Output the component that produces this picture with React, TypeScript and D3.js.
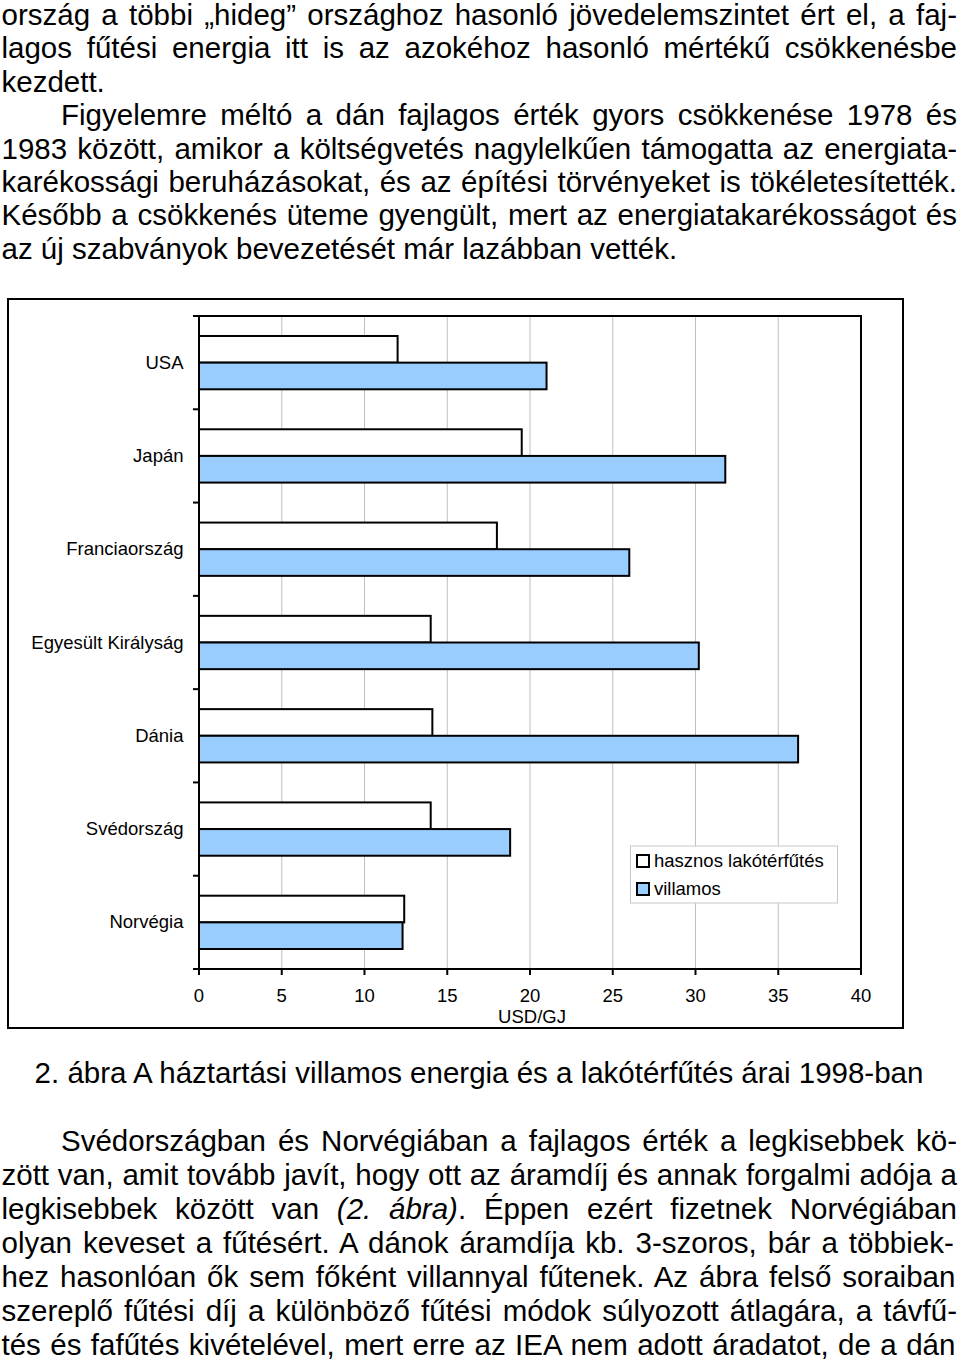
import React from 'react';
import * as d3 from 'd3';

// ---------- data ----------
const categories = ['USA', 'Japán', 'Franciaország', 'Egyesült Királyság', 'Dánia', 'Svédország', 'Norvégia'];
const heatingValues = [12, 19.5, 18, 14, 14.1, 14, 12.4];
const electricValues = [21, 31.8, 26, 30.2, 36.2, 18.8, 12.3];
const seriesNames = ['hasznos lakótérfűtés', 'villamos'];
const seriesFills = ['#ffffff', '#99ccff'];
const xTicks = [0, 5, 10, 15, 20, 25, 30, 35, 40];
const xAxisTitle = 'USD/GJ';
const caption = '2. ábra A háztartási villamos energia és a lakótérfűtés árai 1998-ban';

type Seg = { t: string; i?: boolean };
type Line = { segs: Seg[]; indent: boolean; justify: boolean };

const topLines: Line[] = [
  { segs: [{ t: 'ország a többi „hideg” országhoz hasonló jövedelemszintet ért el, a faj-' }], indent: false, justify: true },
  { segs: [{ t: 'lagos fűtési energia itt is az azokéhoz hasonló mértékű csökkenésbe' }], indent: false, justify: true },
  { segs: [{ t: 'kezdett.' }], indent: false, justify: false },
  { segs: [{ t: 'Figyelemre méltó a dán fajlagos érték gyors csökkenése 1978 és' }], indent: true, justify: true },
  { segs: [{ t: '1983 között, amikor a költségvetés nagylelkűen támogatta az energiata-' }], indent: false, justify: true },
  { segs: [{ t: 'karékossági beruházásokat, és az építési törvényeket is tökéletesítették.' }], indent: false, justify: true },
  { segs: [{ t: 'Később a csökkenés üteme gyengült, mert az energiatakarékosságot és' }], indent: false, justify: true },
  { segs: [{ t: 'az új szabványok bevezetését már lazábban vették.' }], indent: false, justify: false },
];

const bottomLines: Line[] = [
  { segs: [{ t: 'Svédországban és Norvégiában a fajlagos érték a legkisebbek kö-' }], indent: true, justify: true },
  { segs: [{ t: 'zött van, amit tovább javít, hogy ott az áramdíj és annak forgalmi adója a' }], indent: false, justify: true },
  { segs: [{ t: 'legkisebbek között van ' }, { t: '(2. ábra)', i: true }, { t: '. Éppen ezért fizetnek Norvégiában' }], indent: false, justify: true },
  { segs: [{ t: 'olyan keveset a fűtésért. A dánok áramdíja kb. 3-szoros, bár a többiek-' }], indent: false, justify: true },
  { segs: [{ t: 'hez hasonlóan ők sem főként villannyal fűtenek. Az ábra felső soraiban' }], indent: false, justify: true },
  { segs: [{ t: 'szereplő fűtési díj a különböző fűtési módok súlyozott átlagára, a távfű-' }], indent: false, justify: true },
  { segs: [{ t: 'tés és fafűtés kivételével, mert erre az IEA nem adott áradatot, de a dán' }], indent: false, justify: true },
];

// ---------- layout ----------
const W = 960;
const H = 1363;
const FONT = '"Liberation Sans", Arial, Helvetica, sans-serif';
const BODY_FS = 29.5;
const CHART_FS = 18.5;
const TEXT_LEFT = 1.5;
const TEXT_RIGHT = 957;
const INDENT = 61;

const plot = { left: 199, right: 861, top: 316, bottom: 969 };
const frame = { x: 8, y: 299, w: 895, h: 729 };

let ctx: CanvasRenderingContext2D | null = null;
function measure(text: string, italic?: boolean): number {
  if (!ctx) {
    const c = document.createElement('canvas');
    ctx = c.getContext('2d');
  }
  if (!ctx) return text.length * BODY_FS * 0.5;
  ctx.font = `${italic ? 'italic ' : ''}${BODY_FS}px ${FONT}`;
  return ctx.measureText(text).width;
}

function BodyLine({ line, y }: { line: Line; y: number }) {
  const x = line.indent ? INDENT : TEXT_LEFT;
  let ws = 0;
  let useLen = false;
  const target = TEXT_RIGHT - x;
  if (line.justify) {
    const natural = line.segs.reduce((s, g) => s + measure(g.t, g.i), 0);
    const spaces = line.segs.reduce((s, g) => s + (g.t.match(/ /g) || []).length, 0);
    ws = spaces > 0 ? (target - natural) / spaces : 0;
    if (ws < -2.5) {
      ws = 0;
      useLen = true;
    }
  }
  return (
    <text
      x={x}
      y={y}
      fontFamily={FONT}
      fontSize={BODY_FS}
      fill="#000"
      style={{ wordSpacing: `${ws}px`, whiteSpace: 'pre' }}
      {...(useLen ? { textLength: target, lengthAdjust: 'spacingAndGlyphs' } : {})}
    >
      {line.segs.map((g, k) => (
        <tspan key={k} fontStyle={g.i ? 'italic' : 'normal'}>
          {g.t}
        </tspan>
      ))}
    </text>
  );
}

export default function App() {
  const x = d3.scaleLinear().domain([0, 40]).range([plot.left, plot.right]);
  const y = d3
    .scaleBand<string>()
    .domain(categories)
    .range([plot.top, plot.bottom])
    .paddingInner(0.4286)
    .paddingOuter(0.2143);
  const inner = d3.scaleBand<number>().domain([0, 1]).range([0, y.bandwidth()]);
  const step = y.step();
  const boundaries = d3.range(categories.length + 1).map((i) => plot.top + i * step);
  const series = [heatingValues, electricValues];

  return (
    <svg width={W} height={H} style={{ position: 'absolute', left: 0, top: 0, background: '#fff' }}>
      <rect x={0} y={0} width={W} height={H} fill="#fff" />
      {topLines.map((l, i) => (
        <BodyLine key={'t' + i} line={l} y={25 + i * 33.4} />
      ))}

      {/* chart frame */}
      <rect x={frame.x} y={frame.y} width={frame.w} height={frame.h} fill="#fff" stroke="#000" strokeWidth={2} />

      {/* gridlines */}
      {xTicks
        .filter((t) => t > 0 && t < 40)
        .map((t) => (
          <line key={'g' + t} x1={x(t)} x2={x(t)} y1={plot.top} y2={plot.bottom} stroke="#c0c0c0" strokeWidth={1} />
        ))}

      {/* bars */}
      {categories.map((c, ci) =>
        series.map((vals, si) => (
          <rect
            key={c + si}
            x={x(0)}
            y={(y(c) as number) + (inner(si) as number)}
            width={x(vals[ci]) - x(0)}
            height={inner.bandwidth()}
            fill={seriesFills[si]}
            stroke="#000"
            strokeWidth={2}
          />
        ))
      )}

      {/* plot border */}
      <rect
        x={plot.left}
        y={plot.top}
        width={plot.right - plot.left}
        height={plot.bottom - plot.top}
        fill="none"
        stroke="#000"
        strokeWidth={2}
      />

      {/* y ticks */}
      {boundaries.map((b, i) => (
        <line key={'yt' + i} x1={plot.left - 6} x2={plot.left} y1={b} y2={b} stroke="#000" strokeWidth={2} />
      ))}
      {/* category labels */}
      {categories.map((c) => (
        <text
          key={'cl' + c}
          x={183.5}
          y={(y(c) as number) - y.paddingInner() * step * 0.5 + step / 2}
          dy="0.33em"
          textAnchor="end"
          fontFamily={FONT}
          fontSize={CHART_FS}
          fill="#000"
        >
          {c}
        </text>
      ))}

      {/* x ticks */}
      {xTicks.map((t) => (
        <g key={'xt' + t}>
          <line x1={x(t)} x2={x(t)} y1={plot.bottom} y2={plot.bottom + 6} stroke="#000" strokeWidth={2} />
          <text x={x(t)} y={1002} textAnchor="middle" fontFamily={FONT} fontSize={CHART_FS} fill="#000">
            {t}
          </text>
        </g>
      ))}
      <text x={532} y={1022.5} textAnchor="middle" fontFamily={FONT} fontSize={CHART_FS} fill="#000">
        {xAxisTitle}
      </text>

      {/* legend */}
      <rect x={630.5} y={846} width={207} height={57} fill="#fff" stroke="#c8c8c8" strokeWidth={1} />
      {seriesNames.map((n, i) => (
        <g key={'lg' + i}>
          <rect x={637} y={855 + i * 28} width={12} height={12} fill={seriesFills[i]} stroke="#000" strokeWidth={2} />
          <text x={654} y={866.5 + i * 28} fontFamily={FONT} fontSize={CHART_FS} fill="#000">
            {n}
          </text>
        </g>
      ))}

      {/* caption */}
      <text x={479} y={1083} textAnchor="middle" fontFamily={FONT} fontSize={BODY_FS} fill="#000">
        {caption}
      </text>

      {bottomLines.map((l, i) => (
        <BodyLine key={'b' + i} line={l} y={1150.5 + i * 34} />
      ))}
    </svg>
  );
}
